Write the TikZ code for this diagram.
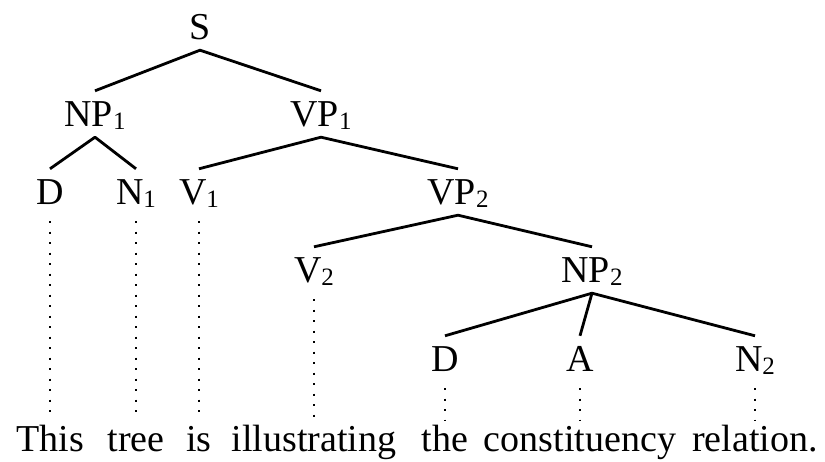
\documentclass[tikz,border=0pt]{standalone}
\usepackage{fontspec}
\setmainfont{Liberation Serif}
\newcommand{\sub}[1]{\raisebox{-3pt}{\fontsize{25}{30}\selectfont#1}}

\begin{document}
\begin{tikzpicture}[x=1pt,y=1pt,
  lab/.style={anchor=base,font=\fontsize{38}{44}\selectfont,
    text height=26pt,text depth=0pt,inner xsep=0pt,inner ysep=10pt},
  branch/.style={line width=2.8pt,line join=round},
  trace/.style={line width=2pt,dash pattern=on 2pt off 8.5pt,
    shorten <=6pt,shorten >=-2pt}]
  \useasboundingbox (0,0) rectangle (825,462);
  % phrase labels
  \node[lab] (s)   at (200,422) {S};
  \node[lab] (np1) at (95,335)  {NP\sub{1}};
  \node[lab] (vp1) at (321,335) {VP\sub{1}};
  \node[lab] (d1)  at (50,257)  {D};
  \node[lab] (n1)  at (136,257) {N\sub{1}};
  \node[lab] (v1)  at (199,257) {V\sub{1}};
  \node[lab] (vp2) at (458,257) {VP\sub{2}};
  \node[lab] (v2)  at (314,179) {V\sub{2}};
  \node[lab] (np2) at (592,179) {NP\sub{2}};
  \node[lab] (d2)  at (445,90)  {D};
  \node[lab] (a)   at (580,90)  {A};
  \node[lab] (n2)  at (755,90)  {N\sub{2}};
  % branches
  \draw[branch] (np1.north) -- (s.south) -- (vp1.north);
  \draw[branch] (d1.north) -- (np1.south) -- (n1.north);
  \draw[branch] (v1.north) -- (vp1.south) -- (vp2.north);
  \draw[branch] (v2.north) -- (vp2.south) -- (np2.north);
  \draw[branch] (d2.north) -- (np2.south) -- (n2.north);
  \draw[branch] (np2.south) -- (a.north);
  % words under the leaves
  \foreach \leaf/\word in {d1/This, n1/tree, v1/is, v2/illustrating,
      d2/the, a/constituency, n2/relation.} {
    \node[lab,inner ysep=8pt] (w-\leaf) at (\leaf |- 0,10) {\word};
    \draw[trace] (\leaf.south) -- (w-\leaf.north);
  }
\end{tikzpicture}
\end{document}
